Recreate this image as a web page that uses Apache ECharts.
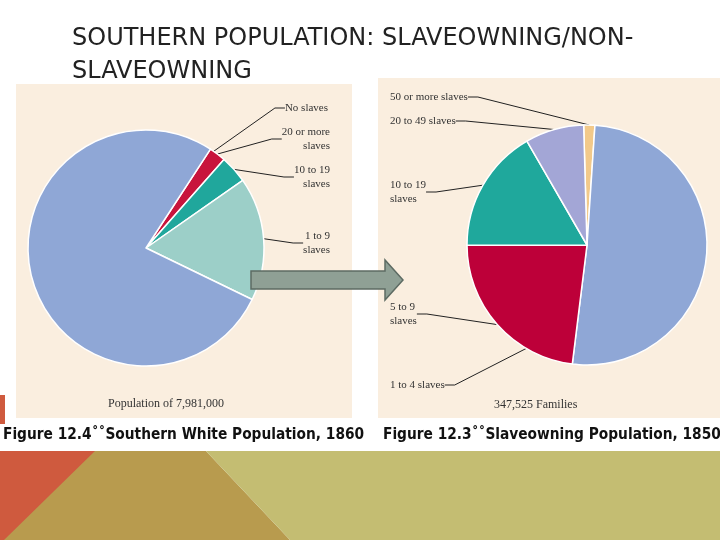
<!DOCTYPE html>
<html>
<head>
<meta charset="utf-8">
<script src="https://cdn.jsdelivr.net/npm/echarts@6/dist/echarts.min.js"></script>
<style>
  html, body { margin: 0; padding: 0; background: #fff; }
  #main { width: 720px; height: 540px; }
</style>
</head>
<body>
<div id="main"></div>
<script>
// data (percent of each total)
var whiteCats = ['20 or more\nslaves', '10 to 19\nslaves', '1 to 9\nslaves', 'No slaves'];
var whiteVals = [2.3, 3.8, 16.9, 77.0];
var whiteColors = ['#c8143c', '#20a79c', '#9ccfc8', '#8fa7d6'];

var ownerCats = ['50 or more slaves', '1 to 4 slaves', '5 to 9\nslaves', '10 to 19\nslaves', '20 to 49 slaves'];
var ownerVals = [1.5, 50.9, 23.0, 16.7, 7.9];
var ownerColors = ['#f2c98a', '#8fa7d6', '#bd0039', '#1fa89c', '#a3a6d6'];

// label anchors (layout only)
var whiteLabelPos = [[330, 139], [330, 177], [330, 243], [328, 108]];
var ownerLabelPos = [[390, 97], [390, 385], [390, 314], [390, 192], [390, 121]];

var myChart = echarts.init(document.getElementById('main'));

var serif = '"Liberation Serif", "DejaVu Serif", serif';
var capFont = 'bold 15.3px "DejaVu Sans Condensed", "DejaVu Sans", sans-serif';

function pieSeries(cats, vals, colors, center, radius, start, pos, align) {
    return {
        type: 'pie',
        center: center,
        radius: radius,
        startAngle: start,
        clockwise: true,
        animation: false,
        silent: true,
        avoidLabelOverlap: false,
        data: cats.map(function (c, i) {
            return { name: c, value: vals[i], itemStyle: { color: colors[i] } };
        }),
        itemStyle: { borderColor: '#fff', borderWidth: 1.5 },
        label: {
            show: true,
            formatter: '{b}',
            fontFamily: serif,
            fontSize: 11,
            lineHeight: 14,
            color: '#333',
            align: align
        },
        labelLine: { show: true, length: 8, length2: 10, lineStyle: { color: '#222', width: 1 } },
        labelLayout: function (p) {
            var q = pos[p.dataIndex];
            return { x: q[0], y: q[1], align: align, verticalAlign: 'middle', hideOverlap: false };
        }
    };
}

option = {
    backgroundColor: '#fff',
    graphic: [
        // bottom decoration
        { type: 'polygon', z: -10, shape: { points: [[0, 395], [5, 395], [5, 450], [100, 450], [5, 540], [0, 540]] }, style: { fill: '#cf5a3e' } },
        { type: 'polygon', z: -10, shape: { points: [[96, 450], [205, 450], [290, 540], [4, 540]] }, style: { fill: '#b89b4e' } },
        { type: 'polygon', z: -10, shape: { points: [[205, 450], [720, 440], [720, 540], [290, 540]] }, style: { fill: '#c4bd72' } },
        // panels
        { type: 'rect', z: -5, shape: { x: 16, y: 84, width: 336, height: 334 }, style: { fill: '#faeedf' } },
        { type: 'rect', z: -5, shape: { x: 378, y: 78, width: 342, height: 340 }, style: { fill: '#faeedf' } },
        { type: 'rect', z: -4, shape: { x: 0, y: 424, width: 720, height: 27 }, style: { fill: '#fff' } },
        // arrow
        { type: 'polygon', z: 20, shape: { points: [[251, 271], [385, 271], [385, 260], [403, 280], [385, 300], [385, 289], [251, 289]] },
          style: { fill: '#8fa095', stroke: '#5d6b63', lineWidth: 1.5 } },
        // title
        { type: 'text', left: 72, top: 22, style: { text: 'SOUTHERN POPULATION: SLAVEOWNING/NON-\nSLAVEOWNING',
          font: '24px "DejaVu Sans", sans-serif', fill: '#222', lineHeight: 33 } },
        // panel footers
        { type: 'text', left: 108, top: 398, style: { text: 'Population of 7,981,000', font: '12px ' + serif, fill: '#333' } },
        { type: 'text', left: 494, top: 399, style: { text: '347,525 Families', font: '12px ' + serif, fill: '#333' } },
        // captions
        { type: 'text', left: 3, top: 428, style: { text: 'Figure 12.4\u02da\u02daSouthern White Population, 1860', font: capFont, fill: '#111' } },
        { type: 'text', left: 383, top: 428, style: { text: 'Figure 12.3\u02da\u02daSlaveowning Population, 1850', font: capFont, fill: '#111' } }
    ],
    series: [
        pieSeries(whiteCats, whiteVals, whiteColors, [146, 248], 118, 56.9, whiteLabelPos, 'right'),
        pieSeries(ownerCats, ownerVals, ownerColors, [587, 245], 120, 91.6, ownerLabelPos, 'left')
    ]
};

myChart.setOption(option);
</script>
</body>
</html>
